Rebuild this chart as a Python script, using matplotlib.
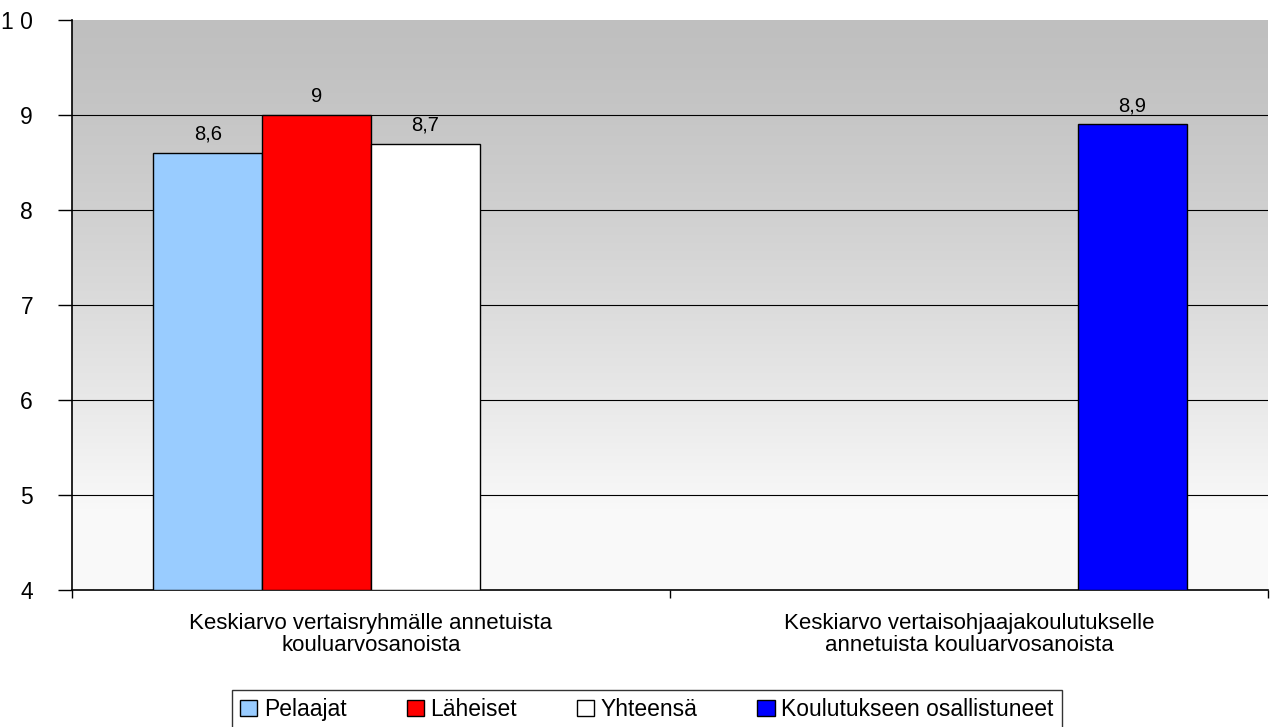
import numpy as np
import matplotlib.pyplot as plt
from matplotlib.patches import Patch

plt.rcParams['font.family'] = ['Liberation Sans', 'DejaVu Sans']

categories = ["Keskiarvo vertaisryhmälle annetuista\nkouluarvosanoista",
              "Keskiarvo vertaisohjaajakoulutukselle\nannetuista kouluarvosanoista"]
series = ["Pelaajat", "Läheiset", "Yhteensä", "Koulutukseen osallistuneet"]
values = [
    [8.6, None],
    [9.0, None],
    [8.7, None],
    [None, 8.9],
]
colors = ["#99CCFF", "#FF0000", "#FFFFFF", "#0000FF"]
labels = [["8,6", None], ["9", None], ["8,7", None], [None, "8,9"]]

fig = plt.figure(figsize=(12.7, 7.27), dpi=100)
ax = fig.add_axes([72 / 1270, 1 - 590 / 727, 1196 / 1270, 570 / 727])

# gradient background
grad = np.linspace(0, 1, 256).reshape(-1, 1)
shade = 0.75 + 0.23 * np.clip((1 - grad) * 1.15, 0, 1) ** 1.3
shade = shade[::-1]
ax.imshow(np.dstack([shade, shade, shade]), extent=[-0.5, 1.5, 4, 10],
          aspect='auto', origin='upper', zorder=0)

ax.set_xlim(-0.5, 1.5)
ax.set_ylim(4, 10)

w = 0.182
x = np.arange(len(categories))
for i, s in enumerate(series):
    for j in range(len(categories)):
        v = values[i][j]
        if v is None:
            continue
        xpos = x[j] + (i - 1.5) * w
        ax.bar(xpos, v - 4, bottom=4, width=w, color=colors[i], edgecolor='black',
               linewidth=1.0, zorder=3)
        ax.text(xpos, v + 0.1, labels[i][j], ha='center', va='bottom', fontsize=14.5, zorder=4)

for yv in range(5, 10):
    ax.axhline(yv, color='black', linewidth=0.8, zorder=1)

ax.set_yticks(range(4, 11))
ax.set_yticklabels([str(v) if v < 10 else "1 0" for v in range(4, 11)], fontsize=16.5)
ax.tick_params(axis='y', length=10, width=1, pad=18, direction='out')

ax.set_xticks([-0.5, 0.5, 1.5])
ax.set_xticklabels([])
ax.tick_params(axis='x', length=6, width=1, direction='out')
for j, c in enumerate(categories):
    ax.text(x[j], 3.76, c, ha='center', va='top', fontsize=16, linespacing=1.05)

ax.spines['top'].set_visible(False)
ax.spines['right'].set_visible(False)
for sp in ['left', 'bottom']:
    ax.spines[sp].set_linewidth(1.2)

handles = [Patch(facecolor=colors[i], edgecolor='black', label=series[i]) for i in range(len(series))]
leg = fig.legend(handles=handles, loc='upper center', bbox_to_anchor=(647 / 1270, 1 - 690 / 727),
                 ncol=4, fontsize=16.5, frameon=True, fancybox=False, edgecolor='black',
                 handlelength=0.75, handleheight=0.75, handletextpad=0.3, columnspacing=2.6,
                 borderpad=0.35, borderaxespad=0)
leg.get_frame().set_linewidth(1.0)

fig.savefig("out.png", dpi=100)
